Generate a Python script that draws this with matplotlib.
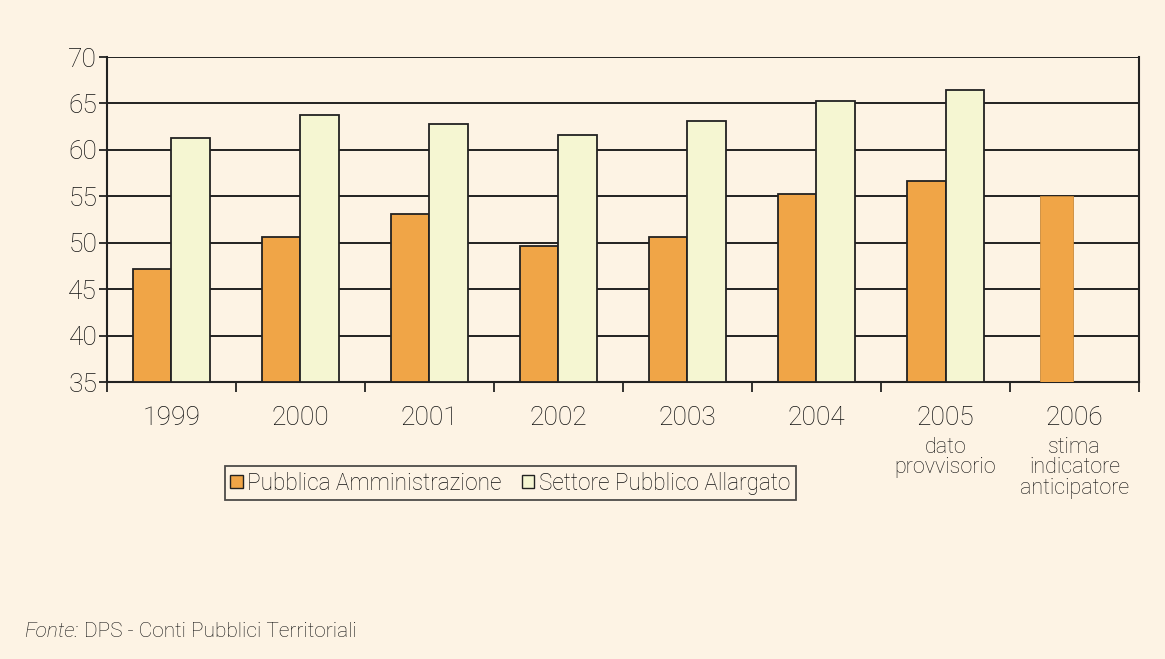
import numpy as np
import matplotlib.pyplot as plt
from matplotlib import font_manager

# font: narrow sans if available
names = set(f.name for f in font_manager.fontManager.ttflist)
fam = 'Liberation Sans Narrow' if 'Liberation Sans Narrow' in names else 'Roboto'
plt.rcParams['font.family'] = [fam, 'DejaVu Sans']
plt.rcParams['font.weight'] = 'light'

anni = ['1999', '2000', '2001', '2002', '2003', '2004', '2005', '2006']
note = ['', '', '', '', '', '', 'dato\nprovvisorio', 'stima\nindicatore\nanticipatore']
pa = [47.2, 50.6, 53.1, 49.7, 50.65, 55.25, 56.7, 55.0]
spa = [61.3, 63.8, 62.8, 61.6, 63.1, 65.3, 66.5, None]

bg = '#fdf3e4'
c_pa = '#f0a547'
c_spa = '#f5f6d2'
txt = '#111111'

fig = plt.figure(figsize=(11.65, 6.59), dpi=100, facecolor=bg)
ax = fig.add_axes([0.0918, 0.4203, 0.9777 - 0.0918, 0.9135 - 0.4203])
ax.set_facecolor(bg)

x = np.arange(len(anni))
w = 0.295
ax.bar(x[:7] - w/2, np.array(pa[:7]) - 35, w, bottom=35, color=c_pa,
       edgecolor='#222222', linewidth=1.3, zorder=3, label='Pubblica Amministrazione')
ax.bar(x[:7] + w/2, np.array(spa[:7]) - 35, w, bottom=35, color=c_spa,
       edgecolor='#222222', linewidth=1.3, zorder=3, label='Settore Pubblico Allargato')
# 2006: solo stima, senza bordo nero
ax.bar(x[7] - w/2 + 0.01, pa[7] - 35, w - 0.04, bottom=35, color=c_pa,
       edgecolor='#c98a3a', linewidth=0.6, zorder=3)

ax.set_xlim(-0.5, 7.5)
ax.set_ylim(35, 70)
ax.set_yticks(np.arange(35, 71, 5))
ax.yaxis.grid(True, color='#111111', linewidth=1.3, zorder=0)
ax.set_axisbelow(True)

ax.set_xticks(x)
ax.set_xticklabels(anni, fontsize=19, color=txt)
ax.set_xticks(np.arange(-0.5, 8, 1), minor=True)
ax.tick_params(axis='x', which='major', length=0, pad=17)
ax.tick_params(axis='x', which='minor', length=7, width=1.3, color='#222222', direction='out')
ax.tick_params(axis='y', length=6, width=1.3, color='#222222', labelsize=19,
               labelcolor=txt, pad=1)

for i, n in enumerate(note):
    if n:
        ax.text(x[i], -0.17, n, transform=ax.get_xaxis_transform(), ha='center',
                va='top', fontsize=15.5, color=txt, linespacing=0.95)

for s in ['left', 'bottom', 'right']:
    ax.spines[s].set_color('#222222')
    ax.spines[s].set_linewidth(1.5)
ax.spines['top'].set_visible(False)

leg = fig.legend(loc='center', bbox_to_anchor=(0.438, 0.267), ncol=2, fontsize=16.3,
                 frameon=True, fancybox=False, edgecolor='#222222', facecolor=bg,
                 handlelength=0.55, handleheight=0.55, handletextpad=0.2,
                 columnspacing=0.9, borderpad=0.25, borderaxespad=0)
leg.get_frame().set_linewidth(1.3)
for t in leg.get_texts():
    t.set_color(txt)
for h in leg.legend_handles:
    h.set_linewidth(1.0)

t1 = fig.text(0.021, 0.034, 'Fonte:', fontsize=15, style='italic', color=txt, va='baseline')
r = fig.canvas.get_renderer()
bb = t1.get_window_extent(renderer=r)
fig.text((bb.x1 + 5) / fig.bbox.width, 0.034, 'DPS - Conti Pubblici Territoriali',
         fontsize=15, color=txt, va='baseline')

fig.savefig('out.png', dpi=100, facecolor=bg)
